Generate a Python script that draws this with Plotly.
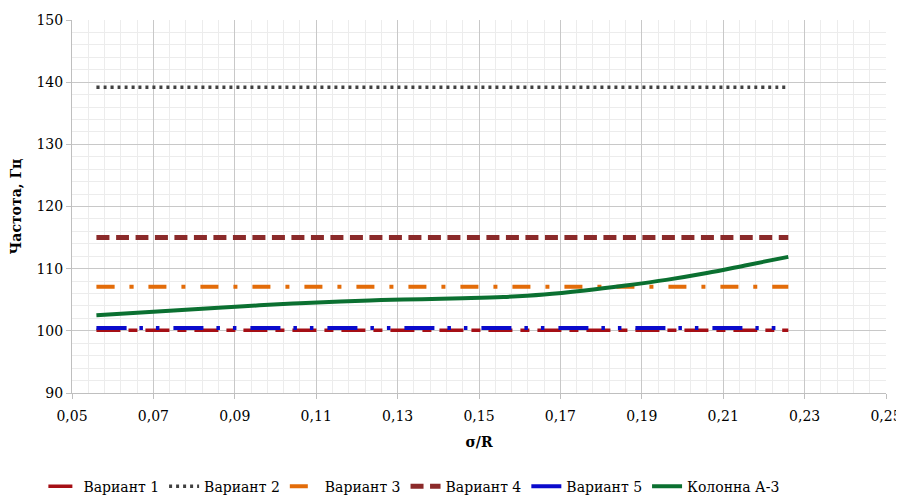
import plotly.graph_objects as go

x = [0.056, 0.066, 0.076, 0.086, 0.096, 0.106, 0.116, 0.126, 0.136, 0.146,
     0.156, 0.166, 0.176, 0.186, 0.196, 0.206, 0.216, 0.226]
v1 = [100.1] * len(x)
v2 = [139.2] * len(x)
v3 = [107.1] * len(x)
v4 = [115.0] * len(x)
v5 = [100.45] * len(x)
kolonna = [102.5, 102.9, 103.3, 103.7, 104.1, 104.45, 104.7, 104.95, 105.1, 105.25,
           105.45, 105.85, 106.5, 107.3, 108.2, 109.3, 110.6, 111.9]

names = ["Вариант 1", "Вариант 2", "Вариант 3", "Вариант 4", "Вариант 5", "Колонна А-3"]
series = [v1, v2, v3, v4, v5, kolonna]
colors = ["#A50F15", "#404040", "#E36C09", "#8B2A2A", "#0A0ACC", "#0B7031"]
widths = [3.5, 3.5, 4, 5, 4, 4]
dashes = ["24px,8px,9px,8px", "3px,4px", "18px,15px,4px,15px", "13px,6.5px",
          "30px,13px,3.5px,13px,3.5px,14px", "solid"]

fig = go.Figure()
for n, s, c, w, d in zip(names, series, colors, widths, dashes):
    fig.add_trace(go.Scatter(x=x, y=s, name=n, mode="lines",
                             line=dict(color=c, width=w, dash=d, shape="spline")))

font = "DejaVu Serif"
fig.update_layout(
    width=896, height=491,
    margin=dict(l=64, r=18, t=12, b=106),
    paper_bgcolor="white", plot_bgcolor="white",
    font=dict(family=font, size=14, color="#000000"),
    showlegend=True,
    legend=dict(orientation="h", xref="paper", x=0.42, xanchor="center",
                yref="container", y=0.025, yanchor="middle",
                font=dict(family=font, size=14), itemwidth=30, tracegroupgap=0,
                bgcolor="rgba(0,0,0,0)"),
    xaxis=dict(range=[0.05, 0.25], dtick=0.02, tick0=0.05, tickformat=".2f",
               automargin=False, ticklabelstandoff=5,
               showgrid=True, gridcolor="#C8C8C8", gridwidth=1,
               minor=dict(dtick=0.004, tick0=0.05, showgrid=True, gridcolor="#ECECEC", gridwidth=1),
               showline=True, linecolor="#BFBFBF", ticks="outside", ticklen=5, tickcolor="#BFBFBF",
               zeroline=False,
               title=dict(text="<b>σ/R</b>", font=dict(family=font, size=14), standoff=14),
               tickfont=dict(family=font, size=14)),
    yaxis=dict(range=[90, 150], dtick=10,
               automargin=False,
               showgrid=True, gridcolor="#C8C8C8", gridwidth=1,
               minor=dict(dtick=2, showgrid=True, gridcolor="#ECECEC", gridwidth=1),
               showline=True, linecolor="#BFBFBF", ticks="outside", ticklen=5, tickcolor="#BFBFBF",
               zeroline=False,
               title=dict(text="<b>Частота, Гц</b>", font=dict(family=font, size=14), standoff=12),
               tickfont=dict(family=font, size=14)),
    separators=", ",
)
fig.write_html("out.html")
